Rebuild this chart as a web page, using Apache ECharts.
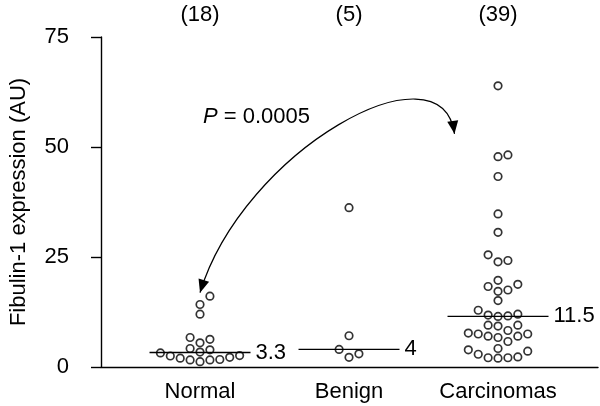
<!DOCTYPE html>
<html><head><meta charset="utf-8">
<script src="https://cdn.jsdelivr.net/npm/echarts@6/dist/echarts.min.js"></script>
<style>html,body{margin:0;padding:0;background:#fff}#c{width:600px;height:406px}</style>
</head><body><div id="c"></div>
<script>
// ---------------- data ----------------
const categories = ['Normal', 'Benign', 'Carcinomas'];
const normalValues = [16.1, 14.2, 12.0, 6.7, 6.3, 5.5, 4.2, 3.9, 3.4, 3.2, 2.5, 2.0, 1.6, 1.2, 1.6, 1.7, 2.2, 2.6];
const benignValues = [36.2, 7.1, 4.0, 2.2, 3.0];
const carcinomaValues = [63.9, 48.2, 47.8, 43.3, 34.8, 30.6, 25.5, 24.2, 23.9, 19.7, 18.8, 18.3, 17.5, 17.2, 15.1,
  12.9, 12.0, 11.8, 11.6, 11.5, 9.5, 9.5, 9.3, 8.3, 7.7, 7.5, 7.5, 7.0, 7.0, 6.7, 5.8, 4.2, 3.9, 3.6, 2.9, 2.3, 2.1, 2.1, 2.0];
const medians = [3.3, 4, 11.5];
const medianLabels = ['3.3', '4', '11.5'];
const yTicks = [0, 25, 50, 75];
const pValueLabel = '0.0005';
const yAxisTitle = 'Fibulin-1 expression (AU)';

// ---------------- layout ----------------
const FONT = "'Liberation Sans', Arial, Helvetica, sans-serif";
const FS = 22;
const GRID = { left: 96, right: 2, top: 37, bottom: 39 };
const W = 600, H = 406;
const X_MIN = -0.6645, X_MAX = 2.671;
const groups = [normalValues, benignValues, carcinomaValues];
const pxPerX = (W - GRID.left - GRID.right) / (X_MAX - X_MIN);
const pxPerY = (H - GRID.top - GRID.bottom) / (yTicks[yTicks.length - 1] - yTicks[0]);
const MEDIAN_HALF = 51 / pxPerX;

function swarm(values, center) {
  const step = 10, minDist = 9;
  const order = values.map((v, i) => i).sort((a, b) => values[a] - values[b]);
  const placed = [];
  const out = new Array(values.length);
  order.forEach(i => {
    const y = values[i] * pxPerY;
    for (let k = 0; k < 200; k++) {
      const col = k === 0 ? 0 : (k % 2 === 1 ? (k + 1) / 2 : -k / 2);
      const x = col * step;
      if (placed.every(p => Math.hypot(p.x - x, p.y - y) >= minDist)) {
        placed.push({ x, y });
        out[i] = [center + x / pxPerX, values[i]];
        break;
      }
    }
  });
  return out;
}

const axisLine = { color: '#000', width: 1.4 };
const txt = { color: '#000', fontSize: FS, fontFamily: FONT };

const series = [];
groups.forEach((vals, gi) => {
  series.push({
    type: 'scatter', xAxisIndex: 0, yAxisIndex: 0,
    data: swarm(vals, gi),
    symbol: 'circle', symbolSize: 7.5,
    itemStyle: { color: 'rgba(255,255,255,0)', borderColor: '#000', borderWidth: 1.7 },
    clip: false, z: 3
  });
  series.push({
    type: 'line', xAxisIndex: 0, yAxisIndex: 0,
    data: [[gi - MEDIAN_HALF, medians[gi]], [gi + MEDIAN_HALF, medians[gi]]],
    symbol: 'none', showSymbol: false,
    lineStyle: { color: '#000', width: 1.4 },
    endLabel: { show: true, formatter: () => medianLabels[gi], distance: 5, ...txt },
    z: 2
  });
});

const chart = echarts.init(document.getElementById('c'));
chart.setOption({
  animation: false,
  backgroundColor: '#fff',
  grid: GRID,
  xAxis: [
    {
      type: 'value', min: X_MIN, max: X_MAX, position: 'bottom',
      axisLine: { show: true, onZero: false, lineStyle: axisLine },
      axisTick: { show: false }, splitLine: { show: false },
      axisLabel: { customValues: [0, 1, 2], formatter: v => categories[Math.round(v)], margin: 14, ...txt }
    },
    {
      type: 'value', min: X_MIN, max: X_MAX, position: 'top',
      axisLine: { show: false }, axisTick: { show: false }, splitLine: { show: false },
      axisLabel: { customValues: [0, 1, 2], formatter: v => '(' + groups[Math.round(v)].length + ')', margin: 11, ...txt }
    }
  ],
  yAxis: {
    type: 'value', min: yTicks[0], max: yTicks[yTicks.length - 1], interval: 25, position: 'left',
    axisLine: { show: true, onZero: false, lineStyle: axisLine },
    axisTick: { show: true, inside: false, length: 10, lineStyle: axisLine },
    splitLine: { show: false },
    axisLabel: { margin: 32, ...txt },
    name: yAxisTitle, nameLocation: 'middle', nameGap: 71, nameRotate: 90,
    nameTextStyle: { ...txt }
  },
  series
});

// ---------- arrow annotation (anchored in data coordinates) ----------
function px(p) { return chart.convertToPixel({ gridIndex: 0 }, p); }
const P0 = px([0, 16.9]);
const C1 = px([0.292, 49.3]);
const C2 = px([1.621, 74.3]);
const P2 = px([1.708, 53.0]);
function head(tip, from) {
  const dx = tip[0] - from[0], dy = tip[1] - from[1];
  const len = Math.hypot(dx, dy);
  const ux = dx / len, uy = dy / len;
  const L = 13, hw = 5.5;
  const bx = tip[0] - ux * L, by = tip[1] - uy * L;
  return [[tip[0], tip[1]], [bx - uy * hw, by + ux * hw], [bx + uy * hw, by - ux * hw]];
}
const pAnchor = px([0.02, 56.8]);
chart.setOption({
  graphic: [
    {
      type: 'bezierCurve',
      shape: { x1: P0[0], y1: P0[1], cpx1: C1[0], cpy1: C1[1], cpx2: C2[0], cpy2: C2[1], x2: P2[0], y2: P2[1] },
      style: { stroke: '#000', lineWidth: 1.2, fill: null }, z: 10
    },
    { type: 'polygon', shape: { points: head(P0, C1) }, style: { fill: '#000' }, z: 10 },
    { type: 'polygon', shape: { points: head(P2, C2) }, style: { fill: '#000' }, z: 10 },
    {
      type: 'text', x: pAnchor[0], y: pAnchor[1], z: 10,
      style: {
        text: '{i|P} = ' + pValueLabel,
        rich: { i: { fontStyle: 'italic', fontSize: FS, fontFamily: FONT, fill: '#000' } },
        fontSize: FS, fontFamily: FONT, fill: '#000',
        align: 'left', verticalAlign: 'middle'
      }
    }
  ]
});
</script>
</body></html>
